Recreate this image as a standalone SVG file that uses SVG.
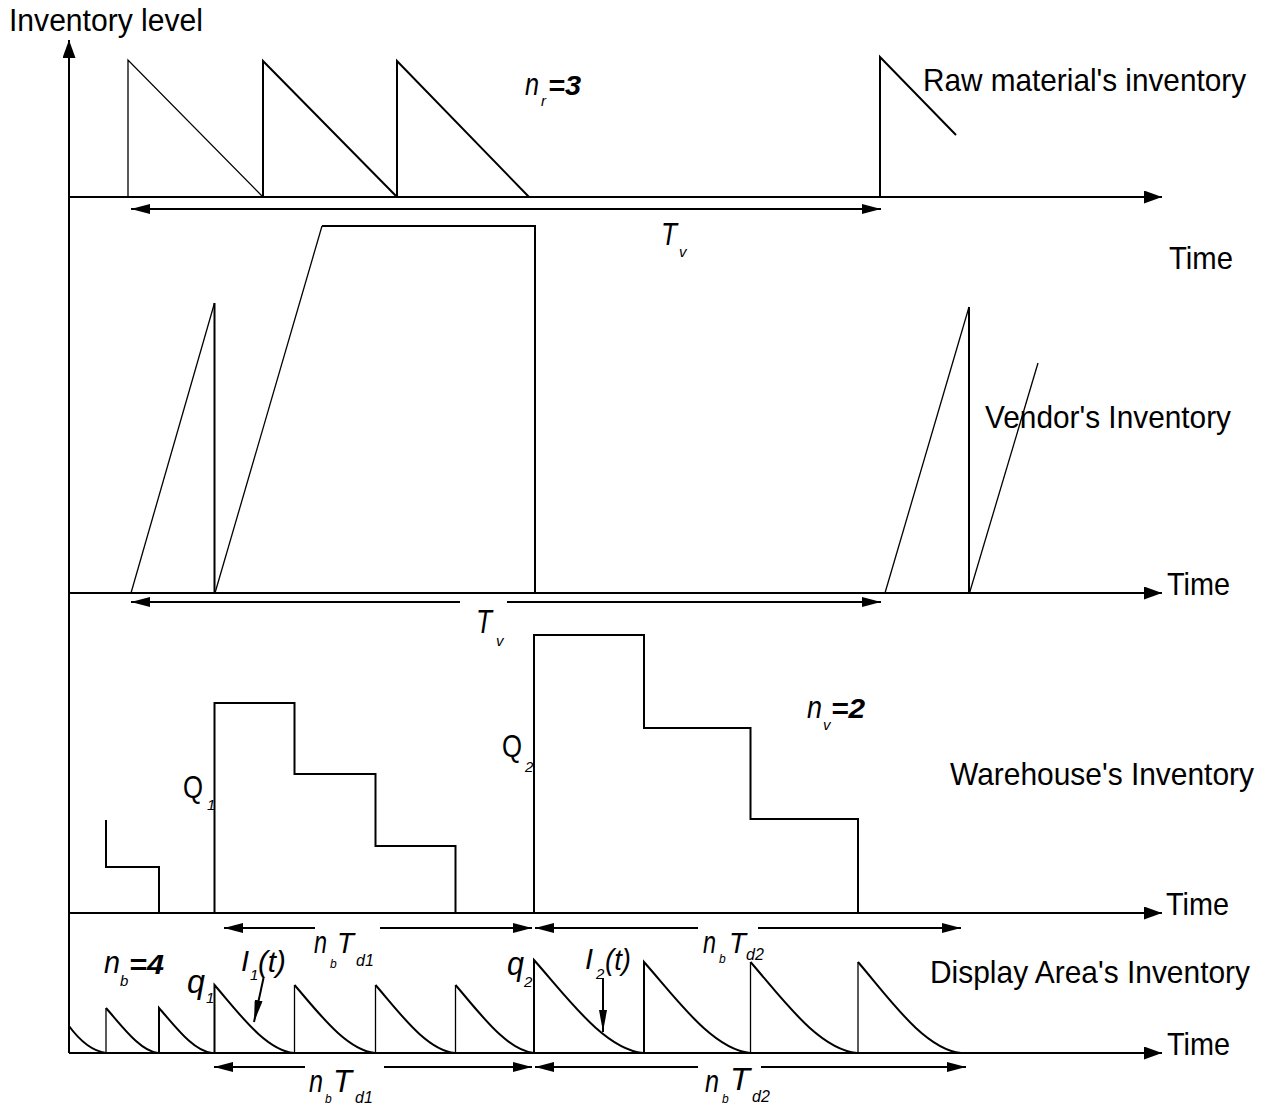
<svg xmlns="http://www.w3.org/2000/svg" width="1286" height="1109" viewBox="0 0 1286 1109">
<defs>
<style>
.ln{stroke:#000;stroke-width:2;fill:none}
.th{stroke:#000;stroke-width:1.3;fill:none}
.lbl{font-family:"Liberation Sans",Arial,sans-serif;font-size:32px;fill:#000}
.m{font-family:"Liberation Sans",Arial,sans-serif;font-size:32px;font-style:italic;fill:#000}
.up{font-style:normal}
.mb{font-weight:bold;font-size:27px}
.sub{font-family:"Liberation Sans",Arial,sans-serif;font-size:15px;font-style:italic;fill:#000}
.sb{font-size:12px}
</style>
<marker id="axh" viewBox="0 0 18 13" refX="18" refY="6.5" markerWidth="18" markerHeight="13" markerUnits="userSpaceOnUse" orient="auto"><path d="M0,0 L18,6.5 L0,13 z" fill="#000"/></marker>
<marker id="dh" viewBox="0 0 19 10" refX="19" refY="5" markerWidth="19" markerHeight="10" markerUnits="userSpaceOnUse" orient="auto"><path d="M0,0 L19,5 L0,10 z" fill="#000"/></marker>
<marker id="ph" viewBox="0 0 22 8" refX="22" refY="4" markerWidth="22" markerHeight="8" markerUnits="userSpaceOnUse" orient="auto"><path d="M0,0 L22,4 L0,8 z" fill="#000"/></marker>
</defs>
<rect width="1286" height="1109" fill="#fff"/>

<g id="axes">
<line class="ln" x1="69" y1="1053" x2="69" y2="40" marker-end="url(#axh)"/>
<line class="ln" x1="69" y1="197" x2="1162" y2="197" marker-end="url(#axh)"/>
<line class="ln" x1="69" y1="593" x2="1162" y2="593" marker-end="url(#axh)"/>
<line class="ln" x1="69" y1="913" x2="1162" y2="913" marker-end="url(#axh)"/>
<line class="ln" x1="69" y1="1053" x2="1162" y2="1053" marker-end="url(#axh)"/>
<text class="lbl" x="9" y="31" textLength="194" lengthAdjust="spacingAndGlyphs" style="font-size:31px">Inventory level</text>
<text class="lbl" x="1169" y="269" textLength="64" lengthAdjust="spacingAndGlyphs">Time</text>
<text class="lbl" x="1167" y="595" textLength="63" lengthAdjust="spacingAndGlyphs">Time</text>
<text class="lbl" x="1166" y="915" textLength="63" lengthAdjust="spacingAndGlyphs">Time</text>
<text class="lbl" x="1167" y="1055" textLength="63" lengthAdjust="spacingAndGlyphs">Time</text>
</g>

<g id="raw-material">
<polyline class="th" points="128,197 128,60 263,197"/>
<polyline class="ln" points="263,197 263,61 397,197"/>
<polyline class="ln" points="397,197 397,61 529,197"/>
<polyline class="ln" points="880,197 880,57 956,135"/>
<text class="lbl" x="923" y="91" textLength="323" lengthAdjust="spacingAndGlyphs">Raw material's inventory</text>
<text class="m" x="525" y="95" textLength="14" lengthAdjust="spacingAndGlyphs">n</text>
<text class="sub" x="541" y="106">r</text>
<text class="m mb" x="548" y="95" textLength="33" lengthAdjust="spacingAndGlyphs">=3</text>
</g>

<g id="vendor">
<polyline class="th" points="131,593 214.5,303"/>
<line class="ln" x1="214.5" y1="303" x2="214.5" y2="593"/>
<polyline class="th" points="215,593 322,226"/>
<polyline class="ln" points="322,226 535,226 535,593"/>
<polyline class="th" points="885,593 969,307"/>
<line class="ln" x1="969" y1="307" x2="969" y2="593"/>
<line class="th" x1="969.5" y1="593" x2="1038" y2="363"/>
<text class="lbl" x="985" y="428" textLength="246" lengthAdjust="spacingAndGlyphs">Vendor's Inventory</text>
</g>

<g id="warehouse">
<polyline class="ln" points="106,820 106,867 159,867 159,913"/>
<polyline class="ln" points="214.5,913 214.5,703 294.5,703 294.5,774 375.5,774 375.5,846 455.5,846 455.5,913"/>
<polyline class="ln" points="534,913 534,635 644,635 644,728 750.5,728 750.5,819 858,819 858,913"/>
<text class="m up" x="183" y="798" textLength="20" lengthAdjust="spacingAndGlyphs">Q</text>
<text class="sub" x="207" y="810">1</text>
<text class="m up" x="502" y="757" textLength="20" lengthAdjust="spacingAndGlyphs">Q</text>
<text class="sub up" x="525" y="772">2</text>
<text class="m" x="807" y="718" textLength="15" lengthAdjust="spacingAndGlyphs">n</text>
<text class="sub" x="823" y="730">v</text>
<text class="m mb" x="831" y="718" textLength="34" lengthAdjust="spacingAndGlyphs">=2</text>
<text class="lbl" x="950" y="785" textLength="304" lengthAdjust="spacingAndGlyphs">Warehouse's Inventory</text>
</g>

<g id="display">
<path class="ln" d="M69,1026 C80,1041 92,1051 106,1053"/>
<path class="th" d="M106,1053 V1008"/>
<path class="ln" d="M106,1008 C122,1026 140,1051 158,1053"/>
<path class="ln" d="M159,1053 V1008 C175,1026 193,1051 212,1053"/>
<path class="ln" d="M214.5,1053 V985 C238,1012 265,1050 294,1053"/>
<path class="th" d="M294.5,1053 V985"/>
<path class="ln" d="M294.5,985 C318,1012 346,1050 375,1053"/>
<path class="th" d="M375.5,1053 V985"/>
<path class="ln" d="M375.5,985 C399,1012 426,1050 455,1053"/>
<path class="th" d="M455.5,1053 V985"/>
<path class="ln" d="M455.5,985 C479,1012 506,1050 534,1053"/>
<path class="ln" d="M534,1053 V960 C567,997 604,1049 643,1053"/>
<path class="ln" d="M644,1053 V962 C676,998 712,1049 750,1053"/>
<path class="th" d="M750.5,1053 V962"/>
<path class="ln" d="M750.5,962 C782,998 818,1049 857,1053"/>
<path class="th" d="M858,1053 V962"/>
<path class="ln" d="M858,962 C889,998 924,1049 961,1053"/>
<text class="lbl" x="930" y="983" textLength="320" lengthAdjust="spacingAndGlyphs">Display Area's Inventory</text>
<text class="m" x="104" y="973" textLength="16" lengthAdjust="spacingAndGlyphs">n</text>
<text class="sub" x="120" y="986">b</text>
<text class="m mb" x="129" y="974" textLength="35" lengthAdjust="spacingAndGlyphs">=4</text>
<text class="m" x="187" y="993" textLength="18" lengthAdjust="spacingAndGlyphs" style="font-size:34px">q</text>
<text class="sub" x="206" y="1003">1</text>
<text class="m" x="507" y="975" textLength="17" lengthAdjust="spacingAndGlyphs" style="font-size:34px">q</text>
<text class="sub" x="524" y="987">2</text>
<text class="m" x="241" y="971" style="font-size:29px">I</text>
<text class="sub" x="250" y="980">1</text>
<text class="m" x="258" y="972" textLength="28" lengthAdjust="spacingAndGlyphs" style="font-size:30px">(t)</text>
<text class="m" x="585" y="969" style="font-size:29px">I</text>
<text class="sub" x="596" y="979">2</text>
<text class="m" x="605" y="970" textLength="26" lengthAdjust="spacingAndGlyphs" style="font-size:30px">(t)</text>
</g>

<g id="connectors">
<line class="ln" x1="500" y1="209" x2="131" y2="209" marker-end="url(#dh)"/>
<line class="ln" x1="500" y1="209" x2="881" y2="209" marker-end="url(#dh)"/>
<line class="ln" x1="460" y1="602" x2="131" y2="602" marker-end="url(#dh)"/>
<line class="ln" x1="507" y1="602" x2="881" y2="602" marker-end="url(#dh)"/>
<line class="ln" x1="315" y1="928" x2="224" y2="928" marker-end="url(#dh)"/>
<line class="ln" x1="380" y1="928" x2="532" y2="928" marker-end="url(#dh)"/>
<line class="ln" x1="698" y1="928" x2="535" y2="928" marker-end="url(#dh)"/>
<line class="ln" x1="758" y1="928" x2="961" y2="928" marker-end="url(#dh)"/>
<line class="ln" x1="305" y1="1067" x2="214" y2="1067" marker-end="url(#dh)"/>
<line class="ln" x1="384" y1="1067" x2="532" y2="1067" marker-end="url(#dh)"/>
<line class="ln" x1="698" y1="1067" x2="535" y2="1067" marker-end="url(#dh)"/>
<line class="ln" x1="761" y1="1067" x2="966" y2="1067" marker-end="url(#dh)"/>
<line class="ln" x1="263.5" y1="978" x2="254" y2="1022" marker-end="url(#ph)"/>
<line class="ln" x1="603" y1="978" x2="603" y2="1032" marker-end="url(#ph)"/>
<text class="m" x="661" y="245" textLength="16" lengthAdjust="spacingAndGlyphs">T</text>
<text class="sub" x="679" y="257">v</text>
<text class="m" x="476" y="633" textLength="16" lengthAdjust="spacingAndGlyphs" style="font-size:34px">T</text>
<text class="sub" x="496" y="646">v</text>
<text class="m" x="314" y="953" textLength="13" lengthAdjust="spacingAndGlyphs">n</text>
<text class="sub sb" x="330" y="968">b</text>
<text class="m" x="337" y="953" textLength="17" lengthAdjust="spacingAndGlyphs" style="font-size:30px">T</text>
<text class="sub" x="356" y="966" style="font-size:16px">d1</text>
<text class="m" x="703" y="953" textLength="13" lengthAdjust="spacingAndGlyphs">n</text>
<text class="sub sb" x="719" y="963">b</text>
<text class="m" x="729" y="953" textLength="17" lengthAdjust="spacingAndGlyphs" style="font-size:30px">T</text>
<text class="sub" x="746" y="960" style="font-size:16px">d2</text>
<text class="m" x="309" y="1092" textLength="14" lengthAdjust="spacingAndGlyphs">n</text>
<text class="sub sb" x="325" y="1103">b</text>
<text class="m" x="333" y="1092" textLength="19" lengthAdjust="spacingAndGlyphs">T</text>
<text class="sub" x="355" y="1103" style="font-size:16px">d1</text>
<text class="m" x="705" y="1092" textLength="14" lengthAdjust="spacingAndGlyphs">n</text>
<text class="sub sb" x="722" y="1103">b</text>
<text class="m" x="730" y="1090" textLength="20" lengthAdjust="spacingAndGlyphs">T</text>
<text class="sub" x="752" y="1102" style="font-size:16px">d2</text>
</g>
</svg>
